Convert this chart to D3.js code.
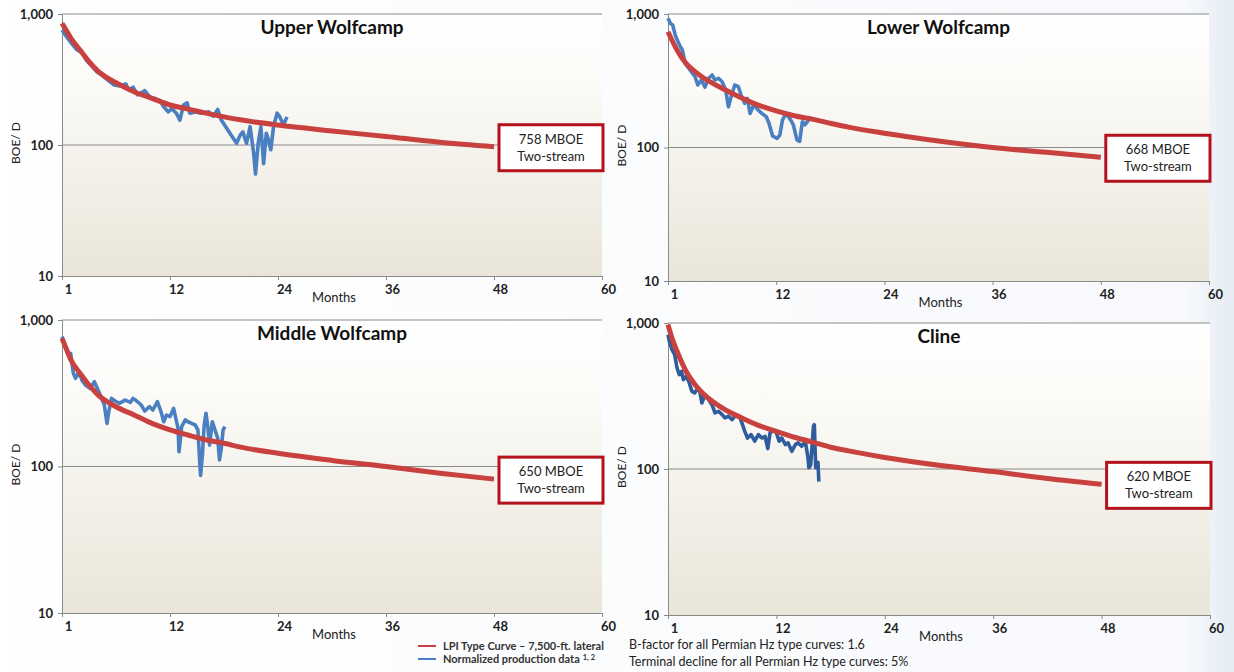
<!DOCTYPE html>
<html>
<head>
<meta charset="utf-8">
<script src="https://cdn.jsdelivr.net/npm/d3@7"></script>
<style>
  body { margin: 0; background: #fff; }
  svg { display: block; font-family: Lato, "Open Sans", sans-serif; }
</style>
</head>
<body>
<svg id="chart" width="1234" height="672"></svg>
<script>
// ---- data ----
const xTickValues = [0, 12, 24, 36, 48, 60];
const xTickLabels = ["1", "12", "24", "36", "48", "60"];
const yTickValues = [10, 100, 1000];

const panelTitles = ["Upper Wolfcamp", "Lower Wolfcamp", "Middle Wolfcamp", "Cline"];
const eurLabels = ["758 MBOE", "668 MBOE", "650 MBOE", "620 MBOE"];

const typeMonths = [0, 0.5, 1, 2, 3, 4, 6, 8, 10, 12, 14, 16, 18, 20, 24, 30, 36, 42, 48];
const upperType  = [849, 745, 652, 531, 433, 367, 299, 255, 227, 202, 188, 175, 164, 155, 142, 128, 116, 105, 97];
const lowerType  = [737, 625, 537, 427, 370, 330, 278, 238, 208, 188, 173, 163, 152, 142, 128, 112, 100, 92, 84.5];
const middleType = [750, 630, 533, 433, 360, 308, 256, 225, 197, 178, 164, 152, 144, 135, 123, 110, 100, 90, 82];
const clineType  = [975, 769, 640, 467, 378, 323, 262, 226, 199, 181, 165, 153, 141, 133, 120, 106, 96, 86, 78.5];

const upperProdMonths = [0, 0.5, 1.07, 1.6, 2.2, 2.7, 3.3, 3.85, 4.4, 5.1, 5.8, 6.4, 7.1, 7.4, 7.9, 8.4, 9.2, 9.8, 10.3, 10.9,
  11.3, 11.8, 12.2, 12.7, 13.1, 13.5, 13.9, 14.2, 14.8, 15.5, 16.3, 16.8, 17.3, 17.7, 18.3, 18.9, 19.4, 19.8, 20.1, 20.5,
  20.9, 21.3, 21.5, 21.8, 22.1, 22.4, 22.7, 22.9, 23.2, 23.5, 23.9, 24.2, 24.6, 25.0];
const upperProd = [755, 671, 597, 537, 507, 446, 401, 363, 342, 313, 287, 282, 292, 263, 276, 241, 260, 231, 227, 218,
  196, 179, 190, 175, 155, 202, 210, 175, 179, 175, 179, 166, 187, 155, 134, 116, 103, 119, 126, 103,
  138, 86, 60, 103, 138, 72, 123, 112, 92, 138, 175, 164, 142, 164];

const lowerProdMonths = [0, 0.26, 0.52, 0.8, 1.1, 1.37, 1.6, 1.9, 2.3, 2.7, 3.0, 3.3, 3.7, 4.1, 4.5, 4.9, 5.2, 5.6, 6.0, 6.4,
  6.7, 7.0, 7.4, 7.8, 8.1, 8.5, 8.8, 9.1, 9.5, 10.0, 10.4, 10.9, 11.2, 11.6, 12.1, 12.4, 12.7, 13.1, 13.6, 13.9,
  14.3, 14.6, 14.9, 15.2, 15.6];
const lowerProd = [928, 851, 827, 696, 621, 569, 537, 427, 392, 360, 339, 294, 321, 283, 330, 349, 321, 330, 311, 270,
  202, 240, 294, 286, 247, 214, 233, 180, 208, 191, 180, 170, 152, 122, 117, 124, 161, 180, 161, 148,
  114, 111, 156, 148, 161];

const middleProdMonths = [0, 0.33, 0.7, 0.96, 1.26, 1.5, 1.9, 2.2, 2.6, 3.1, 3.6, 4.0, 4.4, 4.7, 5.0, 5.2, 5.5, 5.9, 6.4, 7.0,
  7.6, 7.9, 8.3, 8.8, 9.2, 9.7, 10.1, 10.6, 11.0, 11.3, 11.6, 12.0, 12.4, 12.6, 12.9, 13.0, 13.3, 13.7, 14.0, 14.4,
  14.8, 15.1, 15.3, 15.4, 15.6, 15.8, 16.0, 16.2, 16.4, 16.7, 17.0, 17.3, 17.5, 17.7, 17.9, 18.1];
const middleProd = [769, 675, 577, 592, 433, 400, 444, 389, 360, 342, 379, 333, 292, 263, 197, 237, 292, 280, 270, 284,
  274, 292, 280, 263, 239, 256, 243, 277, 237, 202, 224, 219, 249, 219, 182, 126, 187, 208, 202, 197,
  192, 178, 108, 87, 120, 192, 231, 187, 140, 202, 178, 156, 111, 133, 178, 187];

const clineProdMonths = [0, 0.15, 0.44, 0.74, 1.0, 1.25, 1.5, 1.7, 2.0, 2.3, 2.65, 2.95, 3.2, 3.5, 3.75, 4.1, 4.5, 4.9, 5.2, 5.6,
  6.0, 6.3, 6.7, 7.1, 7.4, 7.9, 8.25, 8.5, 8.8, 9.2, 9.6, 10.0, 10.4, 10.75, 11.05, 11.3, 11.7, 12.0, 12.3, 12.6,
  13.0, 13.3, 13.7, 14.1, 14.4, 14.8, 15.2, 15.5, 15.6, 15.8, 16.1, 16.2, 16.35, 16.6, 16.7];
const clineProd = [832, 750, 657, 607, 492, 443, 467, 409, 431, 398, 340, 332, 350, 344, 283, 323, 298, 273, 242, 248,
  236, 224, 230, 218, 230, 230, 201, 181, 163, 172, 155, 172, 163, 167, 138, 177, 183, 177, 155, 163,
  147, 151, 132, 147, 151, 143, 155, 119, 102, 107, 196, 201, 102, 111, 82];

// ---- layout ----
const panels = [
  { left: 62,  right: 602,  top: 14,  bottom: 276, title: 0, type: upperType,  pm: upperProdMonths,  pv: upperProd,  blue: "#4a7fc1" },
  { left: 668, right: 1209, top: 14,  bottom: 281, title: 1, type: lowerType,  pm: lowerProdMonths,  pv: lowerProd,  blue: "#4a7fc1" },
  { left: 62,  right: 602,  top: 320, bottom: 613, title: 2, type: middleType, pm: middleProdMonths, pv: middleProd, blue: "#4a7fc1" },
  { left: 668, right: 1210, top: 323, bottom: 615, title: 3, type: clineType,  pm: clineProdMonths,  pv: clineProd,  blue: "#2f5c9c" }
];

const svg = d3.select("#chart");
const red = "#c9413f";
const boxRed = "#b3121c";

const defs = svg.append("defs");
const grad = defs.append("linearGradient").attr("id", "plotBg").attr("x1", 0).attr("y1", 0).attr("x2", 0).attr("y2", 1);
grad.append("stop").attr("offset", "0%").attr("stop-color", "#ffffff");
grad.append("stop").attr("offset", "25%").attr("stop-color", "#fcfbf8");
grad.append("stop").attr("offset", "100%").attr("stop-color", "#e9e5d9");

const pageGrad = defs.append("linearGradient").attr("id", "pageBg").attr("x1", 0).attr("y1", 0).attr("x2", 1).attr("y2", 0);
pageGrad.append("stop").attr("offset", "0%").attr("stop-color", "#ffffff");
pageGrad.append("stop").attr("offset", "96%").attr("stop-color", "#f7f9fc");
pageGrad.append("stop").attr("offset", "100%").attr("stop-color", "#e6ecf4");
svg.append("rect").attr("width", 1234).attr("height", 672).attr("fill", "url(#pageBg)");

panels.forEach(p => {
  const x = d3.scaleLinear().domain([0, 60]).range([p.left, p.right]);
  const y = d3.scaleLog().domain([10, 1000]).range([p.bottom, p.top]);
  const g = svg.append("g");

  g.append("rect")
    .attr("x", p.left).attr("y", p.top)
    .attr("width", p.right - p.left).attr("height", p.bottom - p.top)
    .attr("fill", "url(#plotBg)");

  // gridlines at 100 and 1,000
  g.selectAll("line.grid").data([100, 1000]).join("line")
    .attr("class", "grid")
    .attr("x1", p.left).attr("x2", p.right)
    .attr("y1", d => y(d)).attr("y2", d => y(d))
    .attr("stroke", "#8a8a8a").attr("stroke-width", 1);

  const xAxis = g.append("g")
    .attr("transform", `translate(0, ${p.bottom})`)
    .call(d3.axisBottom(x).tickValues(xTickValues)
      .tickFormat((d, i) => xTickLabels[i]).tickSize(4).tickPadding(5));
  xAxis.selectAll("text").attr("dx", 6).attr("font-size", 13).attr("font-weight", 700)
    .attr("font-family", "Lato, sans-serif").attr("fill", "#222");

  const yAxis = g.append("g")
    .attr("transform", `translate(${p.left}, 0)`)
    .call(d3.axisLeft(y).tickValues(yTickValues).tickFormat(d3.format(",")).tickSize(4).tickPadding(5));
  yAxis.selectAll("text").attr("font-size", 13).attr("font-weight", 700)
    .attr("font-family", "Lato, sans-serif").attr("fill", "#222");

  [xAxis, yAxis].forEach(a => a.selectAll("path, line").attr("stroke", "#8a8a8a"));

  // production data
  const prod = p.pm.map((m, i) => ({ m, v: p.pv[i] }));
  g.append("path").datum(prod)
    .attr("fill", "none").attr("stroke", p.blue).attr("stroke-width", 3.6)
    .attr("stroke-linejoin", "round")
    .attr("d", d3.line().x(d => x(d.m)).y(d => y(d.v)));

  // type curve
  const tc = typeMonths.map((m, i) => ({ m, v: p.type[i] }));
  g.append("path").datum(tc)
    .attr("fill", "none").attr("stroke", red).attr("stroke-width", 5)
    .attr("d", d3.line().curve(d3.curveMonotoneX).x(d => x(d.m)).y(d => y(d.v)));

  // title
  g.append("text")
    .attr("x", (p.left + p.right) / 2).attr("y", p.top + 20)
    .attr("text-anchor", "middle").attr("font-size", 19).attr("font-weight", 700).attr("fill", "#111")
    .text(panelTitles[p.title]);

  // axis titles
  g.append("text")
    .attr("x", (p.left + p.right) / 2 + 2).attr("y", p.bottom + 26)
    .attr("text-anchor", "middle").attr("font-size", 13).attr("fill", "#222")
    .text("Months");
  g.append("text")
    .attr("transform", `translate(${p.left - 42}, ${y(100) - 2}) rotate(-90)`)
    .attr("text-anchor", "middle").attr("font-size", 12).attr("fill", "#222")
    .text("BOE/ D");

  // EUR callout box
  const endV = p.type[p.type.length - 1];
  const bx = x(48) + 5, bw = x(60) - x(48) - 4, bh = 46, by = y(endV) + 1 - bh / 2;
  g.append("rect")
    .attr("x", bx).attr("y", by).attr("width", bw).attr("height", bh)
    .attr("fill", "#fff").attr("stroke", boxRed).attr("stroke-width", 3);
  g.append("text")
    .attr("x", bx + bw / 2).attr("y", by + 19)
    .attr("text-anchor", "middle").attr("font-size", 13).attr("fill", "#222")
    .text(eurLabels[p.title]);
  g.append("text")
    .attr("x", bx + bw / 2).attr("y", by + 36)
    .attr("text-anchor", "middle").attr("font-size", 13).attr("fill", "#222")
    .text("Two-stream");
});

// legend
const legend = svg.append("g").attr("font-size", 11).attr("font-weight", 700).attr("fill", "#333");
const legendItems = [
  { color: red, label: "LPI Type Curve \u2013 7,500-ft. lateral", yy: 646 },
  { color: "#4a7fc1", label: "Normalized production data", yy: 659 }
];
legendItems.forEach((d, i) => {
  legend.append("line").attr("x1", 418).attr("x2", 436).attr("y1", d.yy).attr("y2", d.yy)
    .attr("stroke", d.color).attr("stroke-width", 2);
  const t = legend.append("text").attr("x", 443).attr("y", d.yy + 4).text(d.label);
  if (i === 1) t.append("tspan").attr("dy", -3).attr("dx", 3).attr("font-size", 7.5).text("1, 2");
});

// notes
const notes = svg.append("g").attr("font-size", 12.5).attr("fill", "#222");
notes.append("text").attr("x", 629).attr("y", 649).text("B-factor for all Permian Hz type curves: 1.6");
notes.append("text").attr("x", 629).attr("y", 666).text("Terminal decline for all Permian Hz type curves: 5%");
</script>
</body>
</html>
